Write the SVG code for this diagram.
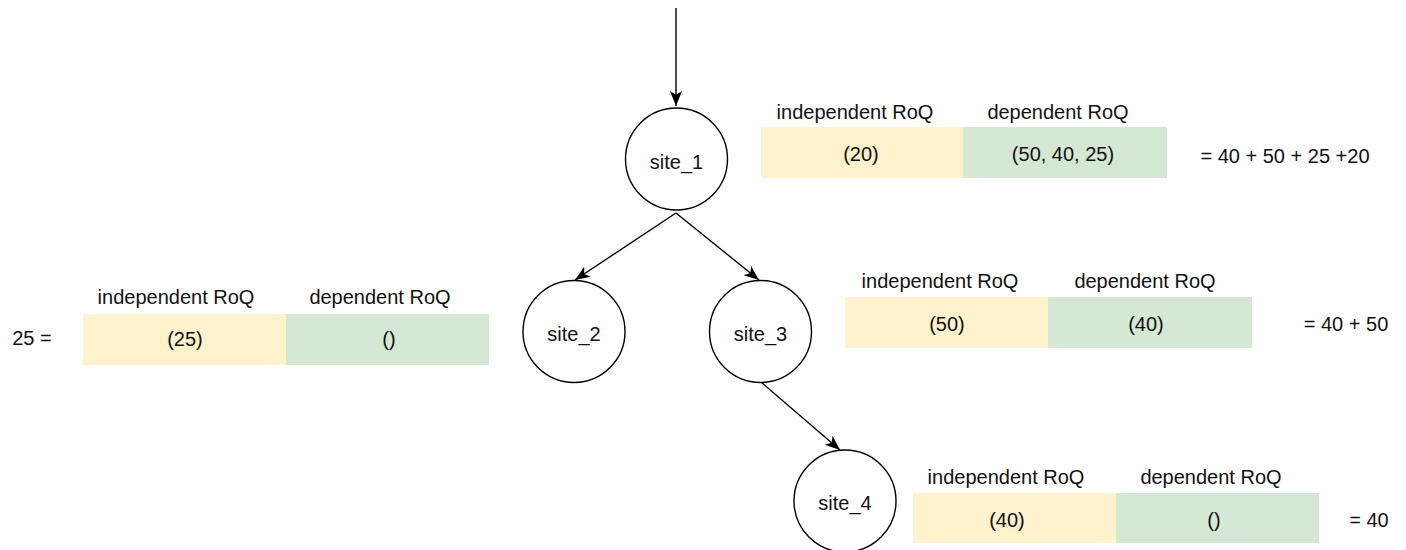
<svg xmlns="http://www.w3.org/2000/svg" width="1406" height="550" viewBox="0 0 1406 550">
<style>
text{font-family:"Liberation Sans",Arial,Helvetica,sans-serif;font-size:20px;fill:#111;text-anchor:middle;dominant-baseline:central}
.n{fill:#ffffff;stroke:#000;stroke-width:1.4}
.e{fill:none;stroke:#000;stroke-width:1.4}
.y{fill:#fff2cc}
.g{fill:#d5e8d4}
</style>
<defs>
<marker id="arr" markerUnits="userSpaceOnUse" markerWidth="16" markerHeight="14" viewBox="0 0 16 14" refX="15" refY="7" orient="auto">
<path d="M0,1 L15,7 L0,13 L4,7 Z" fill="#000"/>
</marker>
</defs>
<g id="connectors">
<line class="e" x1="676" y1="8" x2="676" y2="106" marker-end="url(#arr)"/>
<line class="e" x1="676" y1="213" x2="575" y2="280" marker-end="url(#arr)"/>
<line class="e" x1="676" y1="213" x2="759" y2="280" marker-end="url(#arr)"/>
<line class="e" x1="761" y1="382" x2="840" y2="450" marker-end="url(#arr)"/>
</g>
<g id="site_1"><circle class="n" cx="676.5" cy="159" r="51"/><text x="676.5" y="162">site_1</text></g>
<g id="site_2"><circle class="n" cx="574" cy="331.5" r="51"/><text x="574" y="334">site_2</text></g>
<g id="site_3"><circle class="n" cx="760.5" cy="331.5" r="51"/><text x="760.5" y="334">site_3</text></g>
<g id="site_4"><circle class="n" cx="845" cy="501" r="51"/><text x="845" y="503">site_4</text></g>
<g id="table_site_1">
<rect class="y" x="761" y="127" width="202" height="51"/>
<rect class="g" x="963" y="127" width="204" height="51"/>
<text x="855" y="112">independent RoQ</text>
<text x="1058" y="112">dependent RoQ</text>
<text x="861" y="154">(20)</text>
<text x="1063" y="154">(50, 40, 25)</text>
<text x="1285" y="156">= 40 + 50 + 25 +20</text>
</g>
<g id="table_site_3">
<rect class="y" x="845" y="297" width="203" height="51"/>
<rect class="g" x="1048" y="297" width="204" height="51"/>
<text x="940" y="281">independent RoQ</text>
<text x="1145" y="281">dependent RoQ</text>
<text x="947" y="324">(50)</text>
<text x="1146" y="324">(40)</text>
<text x="1346" y="324">= 40 + 50</text>
</g>
<g id="table_site_2">
<rect class="y" x="83" y="314" width="203" height="51"/>
<rect class="g" x="286" y="314" width="203" height="51"/>
<text x="176" y="297">independent RoQ</text>
<text x="380" y="297">dependent RoQ</text>
<text x="185" y="339">(25)</text>
<text x="389" y="339">()</text>
<text x="32" y="338">25 =</text>
</g>
<g id="table_site_4">
<rect class="y" x="913" y="493" width="203" height="50"/>
<rect class="g" x="1116" y="493" width="203" height="50"/>
<text x="1006" y="477">independent RoQ</text>
<text x="1211" y="477">dependent RoQ</text>
<text x="1007" y="520">(40)</text>
<text x="1214" y="520">()</text>
<text x="1369" y="520">= 40</text>
</g>
</svg>
